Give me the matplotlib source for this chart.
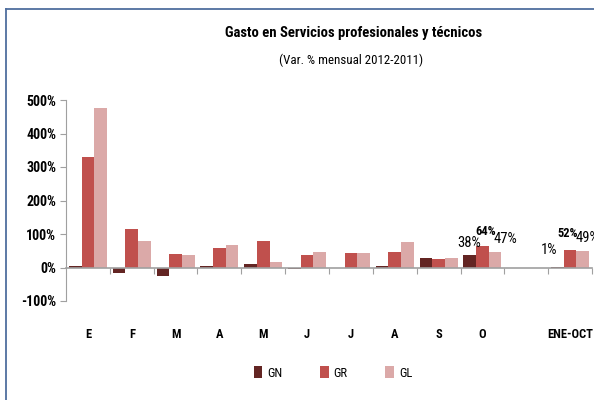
import matplotlib
matplotlib.use("Agg")
import matplotlib.pyplot as plt
import matplotlib.transforms as mtransforms
from matplotlib.lines import Line2D
from matplotlib.patches import Patch

months = ["E", "F", "M", "A", "M", "J", "J", "A", "S", "O", "", "ENE-OCT"]
gn = [5, -17, -24, 4, 11, -5, -2, 3, 29, 38, 0, 1]
gr = [330, 116, 39, 57, 80, 36, 44, 47, 26, 64, 0, 52]
gl = [476, 80, 38, 68, 15, 47, 44, 77, 29, 47, 0, 49]
has_bar = [True] * 10 + [False, True]

# data labels on the last two groups: text, bold, pixel offset (dx, dy)
labels = {(9, 0): ("38%", False, (-1, 12)), (9, 1): ("64%", True, (3, 15)),
          (9, 2): ("47%", False, (10, 13)), (11, 0): ("1%", False, (-8, 17)),
          (11, 1): ("52%", True, (-2, 17)), (11, 2): ("49%", False, (5, 13))}

names = ["GN", "GR", "GL"]
colors = ["#632523", "#C0504D", "#DBA9A8"]

plt.rcParams["font.family"] = ["Roboto Condensed", "Archivo Narrow", "DejaVu Sans"]

fig = plt.figure(figsize=(5.94, 4.0), dpi=100)
ax = fig.add_axes([66 / 594, 99 / 400, 526 / 594, 201 / 400])

w = 0.29
series = [gn, gr, gl]
for s, (vals, c) in enumerate(zip(series, colors)):
    xs = [i + (s - 1) * w for i in range(len(months)) if has_bar[i]]
    ys = [v for i, v in enumerate(vals) if has_bar[i]]
    ax.bar(xs, ys, width=w, color=c, edgecolor="none", zorder=2)

for (i, s), (txt, bold, (dx, dy)) in labels.items():
    v = series[s][i]
    ax.annotate(txt, (i + (s - 1) * w, max(v, 0)), xytext=(dx * 0.72, dy * 0.72),
                textcoords="offset points", ha="center", va="center",
                fontsize=9 if bold else 10.5, fontweight="bold" if bold else "normal",
                annotation_clip=False)

ax.set_xlim(-0.5, len(months) - 0.5)
ax.set_ylim(-100, 500)
ax.set_yticks(range(-100, 501, 100))
ax.set_yticklabels([f"{t}%" for t in range(-100, 501, 100)], fontweight="bold", fontsize=10)
ax.tick_params(axis="y", length=4, color="#a0a0a0", pad=3)

ax.spines["top"].set_visible(False)
ax.spines["right"].set_visible(False)
ax.spines["left"].set_color("#a0a0a0")
ax.spines["bottom"].set_color("#a0a0a0")
ax.spines["bottom"].set_position(("data", 0))
ax.spines["bottom"].set_linewidth(1.2)
ax.set_xticks([i - 0.5 for i in range(1, len(months) + 1)])
ax.set_xticklabels([])
ax.tick_params(axis="x", length=4, color="#a0a0a0")

trans = mtransforms.blended_transform_factory(ax.transData, fig.transFigure)
for i, m in enumerate(months):
    ax.text(i, 1 - 335 / 400, m, transform=trans, ha="center", va="center",
            fontsize=9, fontweight="bold")

fig.text(354 / 594, 1 - 33 / 400, "Gasto en Servicios profesionales y técnicos",
         ha="center", va="center", fontsize=10.6, fontweight="bold")
fig.text(351 / 594, 1 - 60 / 400, "(Var. % mensual 2012-2011)",
         ha="center", va="center", fontsize=9.3)

handles = [Patch(facecolor=c, edgecolor="none") for c in colors]
fig.legend(handles, names, loc="center", bbox_to_anchor=(333 / 594, 1 - 373 / 400),
           ncol=3, frameon=False, fontsize=9, handlelength=0.7, handleheight=1.1,
           columnspacing=3.0, handletextpad=0.4)

# outer chart frame (top and left edges visible)
fig.add_artist(Line2D([6 / 594, 6 / 594], [0, 1 - 9 / 400], transform=fig.transFigure,
                      color="#4F6E9E", lw=1.3))
fig.add_artist(Line2D([6 / 594, 1], [1 - 9 / 400, 1 - 9 / 400], transform=fig.transFigure,
                      color="#4F6E9E", lw=1.3))

fig.savefig("out.png", dpi=100)
